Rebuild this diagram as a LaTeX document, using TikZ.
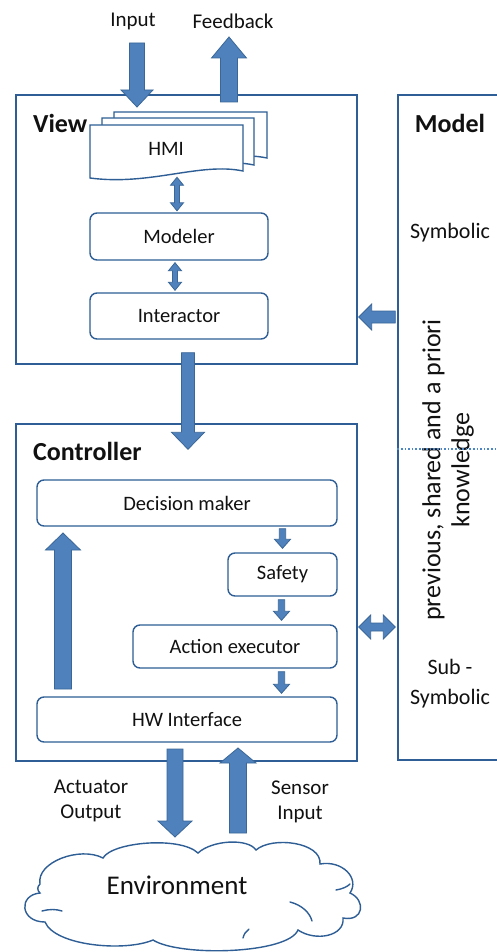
\documentclass[tikz,border=0pt]{standalone}
\usepackage{fontspec}
\setmainfont{Carlito}
\usetikzlibrary{calc}
\definecolor{boxc}{HTML}{2E5E95}
\definecolor{arrfill}{HTML}{4F81BD}
\definecolor{arrdraw}{HTML}{3A6797}
\definecolor{txt}{HTML}{111111}
\definecolor{dotc}{HTML}{4A86C8}
\tikzset{
 rbox/.style={draw=boxc, line width=1.4pt, rounded corners=7pt, fill=white, text=txt, font=\fontsize{20.5}{23}\selectfont, inner sep=0pt},
 bigbox/.style={draw=boxc, line width=1.4pt, inner sep=0pt},
 docshape/.style={draw=boxc, line width=1.4pt, fill=white},
 cloudline/.style={draw=boxc, line width=1.4pt, fill=white, line cap=round},
 blockarr/.style={fill=arrfill, draw=arrdraw, line width=0.8pt, line join=miter},
 titlelbl/.style={font=\bfseries\fontsize{26}{29}\selectfont, text=txt, inner sep=0pt},
 lbl/.style={font=\fontsize{21}{25}\selectfont, text=txt, align=center, inner sep=0pt},
 modellbl/.style={font=\fontsize{22}{30}\selectfont, text=txt, align=center, inner sep=0pt},
}
% single block arrow: start, end, half shaft, half head, head length
\newcommand\blockarrow[5]{%
  \path ($(#2)!#5!(#1)$) coordinate (bahead);
  \filldraw[blockarr] ($(#1)!#3!90:(#2)$) -- ($(bahead)!#3!90:(#2)$) -- ($(bahead)!#4!90:(#2)$) -- (#2)
    -- ($(bahead)!#4!-90:(#2)$) -- ($(bahead)!#3!-90:(#2)$) -- ($(#1)!#3!-90:(#2)$) -- cycle;
}
% double block arrow
\newcommand\dblockarrow[5]{%
  \path ($(#1)!#5!(#2)$) coordinate (dbaone);
  \path ($(#2)!#5!(#1)$) coordinate (dbatwo);
  \filldraw[blockarr] (#1) -- ($(dbaone)!#4!90:(#2)$) -- ($(dbaone)!#3!90:(#2)$) -- ($(dbatwo)!#3!90:(#2)$)
    -- ($(dbatwo)!#4!90:(#2)$) -- (#2) -- ($(dbatwo)!#4!-90:(#2)$) -- ($(dbatwo)!#3!-90:(#2)$)
    -- ($(dbaone)!#3!-90:(#2)$) -- ($(dbaone)!#4!-90:(#2)$) -- cycle;
}
\begin{document}
\begin{tikzpicture}[x=1pt,y=-1pt]
\useasboundingbox (0,0) rectangle (497,952);
\clip (0,0) rectangle (497,952);
\fill[white] (0,0) rectangle (497,952);

% main boxes
\node[bigbox, minimum width=341pt, minimum height=269pt] (view) at (186.5,229.5) {};
\node[bigbox, minimum width=341pt, minimum height=337pt] (ctrl) at (186.5,592.5) {};
\node[bigbox, minimum width=124pt, minimum height=665pt] (model) at (460,427.5) {};

% titles
\node[titlelbl, anchor=west] (viewt) at (33,123) {View};
\node[titlelbl, anchor=west] (ctrlt) at (33,451) {Controller};
\node[titlelbl] (modelt) at (450,123) {Model};

% HMI stacked documents
\filldraw[docshape] (114,112) -- (267,112) -- (267,158) .. controls (224,149) and (174,172) .. (114,164) -- cycle;
\filldraw[docshape] (102,118) -- (254,118) -- (254,165) .. controls (211,156) and (162,179) .. (102,171) -- cycle;
\filldraw[docshape] (90,125) -- (243,125) -- (243,171) .. controls (200,162) and (150,186) .. (90,178) -- cycle;
\node[rbox, draw=none, fill=none, rounded corners=0pt] (hmi) at (166,149) {HMI};

% view nodes
\node[rbox, minimum width=178pt, minimum height=47pt] (modeler) at (179,236.5) {Modeler};
\node[rbox, minimum width=178pt, minimum height=46pt] (interactor) at (179,316) {Interactor};

% controller nodes
\node[rbox, minimum width=300pt, minimum height=46pt] (dm) at (187,503) {Decision maker};
\node[rbox, minimum width=109pt, minimum height=43pt] (safety) at (282.5,574.5) {Safety};
\node[rbox, minimum width=204pt, minimum height=43pt] (action) at (235,646.5) {Action executor};
\node[rbox, minimum width=300pt, minimum height=45pt] (hw) at (187,719.5) {HW Interface};

% model texts
\node[modellbl] (symb) at (450,233) {Symbolic};
\node[modellbl] (subsymb) at (450,684) {Sub -\\Symbolic};
\node[modellbl, font=\fontsize{26}{29}\selectfont, rotate=90] (know) at (448,470) {previous, shared and a priori\\knowledge};
\draw[dotc, dotted, line width=1.6pt] (model.west |- 0,449) coordinate (dl1) -- (497,449) coordinate (dl2);

% outer labels
\node[lbl] (inputl) at (133,21) {Input};
\node[lbl] (feedl) at (233,21) {Feedback};
\node[lbl] (actl) at (91,801) {Actuator\\Output};
\node[lbl] (senl) at (300,802) {Sensor\\Input};

% environment cloud
\filldraw[cloudline] (40,884)
 .. controls (36,862) and (80,846) .. (103,858)
 .. controls (112,842) and (180,836) .. (198,853)
 .. controls (212,840) and (248,838) .. (256,850)
 .. controls (272,836) and (322,842) .. (320,864)
 .. controls (342,860) and (360,878) .. (350,893)
 .. controls (366,900) and (364,922) .. (343,918)
 .. controls (345,936) and (316,942) .. (298,930)
 .. controls (288,954) and (180,957) .. (153,940)
 .. controls (125,952) and (55,946) .. (45,922)
 .. controls (20,922) and (18,895) .. (40,893)
 .. controls (37,890) and (37,887) .. (40,884) -- cycle;
\draw[cloudline, fill=none] (42,911) .. controls (49,909) and (56,909) .. (62,911);
\draw[cloudline, fill=none] (290,902) .. controls (302,905) and (310,913) .. (312,921);
\draw[cloudline, fill=none] (336,890) .. controls (342,889) and (347,887) .. (350,884);
\draw[cloudline, fill=none] (243,938) .. controls (244,934) and (246,931) .. (249,929);
\node[lbl, font=\fontsize{27}{30}\selectfont] (envt) at (177,885) {Environment};

% arrow coordinates
\coordinate (inA) at (137,43);
\coordinate (inB) at (137,107);
\coordinate (fbA) at (229,102);
\coordinate (fbB) at (229,37);
\coordinate (hm1) at ($(hmi.south)+(11,21)$);
\coordinate (hm2) at ($(modeler.north)+(-2,-1.5)$);
\coordinate (mi1) at ($(modeler.south)+(-4,2)$);
\coordinate (mi2) at ($(interactor.north)+(-4,-2)$);
\coordinate (mv1) at ($(model.west |- interactor)+(-2,1)$);
\coordinate (mv2) at ($(view.east |- interactor)+(1,1)$);
\coordinate (vc1) at ($(view.south)+(1.5,-12)$);
\coordinate (vc2) at ($(ctrl.north)+(1.5,26)$);
\coordinate (lp1) at (63,689);
\coordinate (lp2) at (63,533);
\coordinate (ds1) at ($(dm.south -| safety)+(0,2)$);
\coordinate (ds2) at ($(safety.north)+(0,-4)$);
\coordinate (sa1) at ($(safety.south)+(-1,3)$);
\coordinate (sa2) at ($(action.north -| safety)+(-1,-4)$);
\coordinate (ah1) at ($(action.south -| safety)+(-1,3)$);
\coordinate (ah2) at ($(hw.north -| safety)+(-1,-3)$);
\coordinate (cm1) at ($(ctrl.east |- 0,627)+(1,0)$);
\coordinate (cm2) at ($(model.west |- 0,627)+(-2,0)$);
\coordinate (ac1) at (175,749);
\coordinate (ac2) at (175,837);
\coordinate (se1) at (238,833);
\coordinate (se2) at (238,748);

% arrows
\blockarrow{inA}{inB}{7.5pt}{16pt}{17pt}
\blockarrow{fbA}{fbB}{8.5pt}{17.5pt}{21pt}
\dblockarrow{hm1}{hm2}{2.5pt}{6.5pt}{8pt}
\dblockarrow{mi1}{mi2}{2.5pt}{6.5pt}{8pt}
\blockarrow{mv1}{mv2}{6pt}{13pt}{13pt}
\blockarrow{vc1}{vc2}{6.5pt}{16.5pt}{17pt}
\blockarrow{lp1}{lp2}{8.5pt}{17.5pt}{17pt}
\blockarrow{ds1}{ds2}{3.2pt}{8pt}{9pt}
\blockarrow{sa1}{sa2}{3.2pt}{8pt}{9pt}
\blockarrow{ah1}{ah2}{3.2pt}{8pt}{9pt}
\dblockarrow{cm1}{cm2}{4pt}{12pt}{12pt}
\blockarrow{ac1}{ac2}{8pt}{17pt}{16pt}
\blockarrow{se1}{se2}{8.5pt}{18pt}{15pt}
\end{tikzpicture}
\end{document}
